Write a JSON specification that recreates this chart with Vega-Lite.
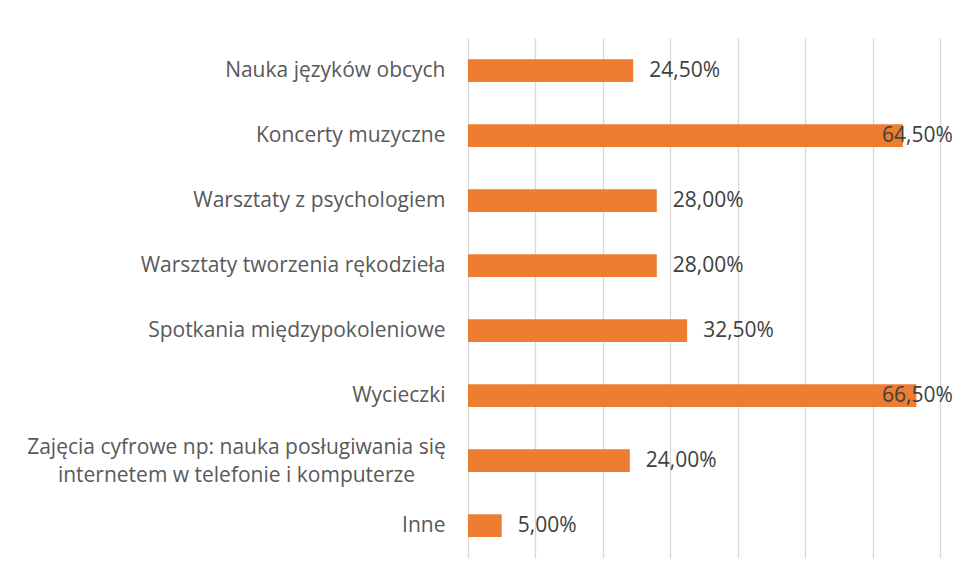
{
  "$schema": "https://vega.github.io/schema/vega-lite/v6.json",
  "autosize": "none",
  "width": 472,
  "height": 520,
  "padding": {"left": 468, "top": 38, "right": 17, "bottom": 20},
  "background": "white",
  "config": {
    "view": {"stroke": null},
    "locale": {"number": {"decimal": ",", "thousands": " ", "grouping": [3], "currency": ["", " zł"]}}
  },
  "data": {
    "values": [
      {"category": "Nauka języków obcych", "value": 0.245},
      {"category": "Koncerty muzyczne", "value": 0.645},
      {"category": "Warsztaty z psychologiem", "value": 0.28},
      {"category": "Warsztaty tworzenia rękodzieła", "value": 0.28},
      {"category": "Spotkania międzypokoleniowe", "value": 0.325},
      {"category": "Wycieczki", "value": 0.665},
      {"category": "Zajęcia cyfrowe np: nauka posługiwania się|internetem w telefonie i komputerze", "value": 0.24},
      {"category": "Inne", "value": 0.05}
    ]
  },
  "encoding": {
    "y": {
      "field": "category",
      "type": "nominal",
      "sort": null,
      "scale": {"paddingInner": 0.65, "paddingOuter": 0.325},
      "axis": {
        "title": null,
        "domain": false,
        "ticks": false,
        "labelFont": "Open Sans",
        "labelFontSize": 21,
        "labelColor": "#595959",
        "labelLimit": 1000,
        "labelLineHeight": 28,
        "labelExpr": "split(datum.label, '|')",
        "labelAlign": {"condition": {"test": "indexof(datum.value, '|') >= 0", "value": "center"}, "value": "right"},
        "labelPadding": {"condition": {"test": "indexof(datum.value, '|') >= 0", "value": 232}, "value": 23},
        "labelOffset": {"condition": {"test": "indexof(datum.value, '|') >= 0", "value": -13}, "value": 0}
      }
    },
    "x": {
      "field": "value",
      "type": "quantitative",
      "scale": {"domain": [0, 0.7], "nice": false},
      "axis": {
        "title": null,
        "values": [0, 0.1, 0.2, 0.3, 0.4, 0.5, 0.6, 0.7],
        "labels": false,
        "ticks": false,
        "domain": false,
        "grid": true,
        "gridColor": "#D9D9D9",
        "gridWidth": 1.3
      }
    }
  },
  "layer": [
    {"mark": {"type": "bar", "color": "#ED7D31"}},
    {
      "mark": {
        "type": "text",
        "align": "left",
        "baseline": "middle",
        "dx": {"expr": "min(16, 414 - datum.value * 674.3)"},
        "font": "Open Sans",
        "fontSize": 21,
        "color": "#404040"
      },
      "encoding": {"text": {"field": "value", "type": "quantitative", "format": ".2%"}}
    }
  ]
}
